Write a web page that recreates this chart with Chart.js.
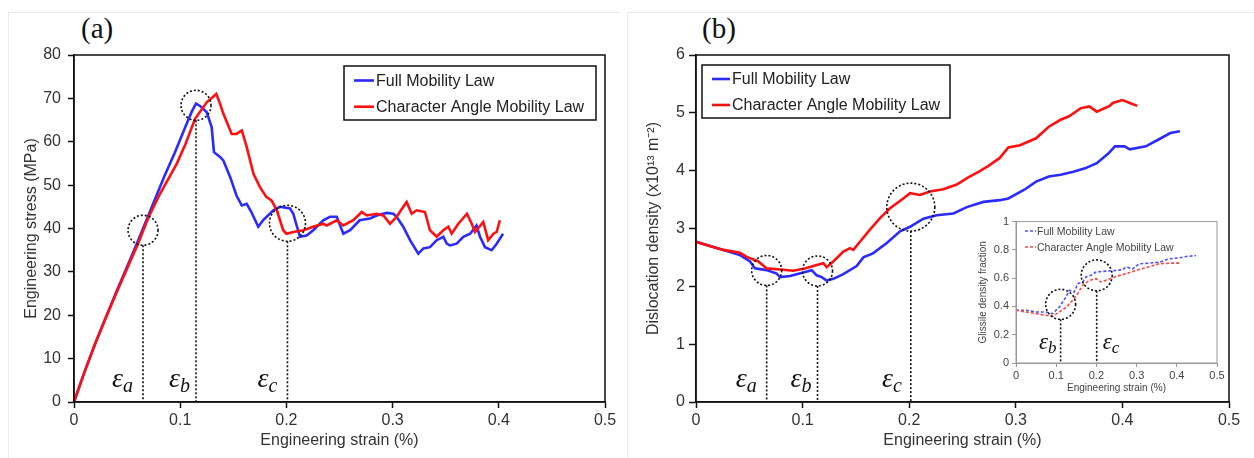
<!DOCTYPE html>
<html>
<head>
<meta charset="utf-8">
<script src="https://cdn.jsdelivr.net/npm/chart.js@4.4.1/dist/chart.umd.min.js"></script>
<style>
  body { margin: 0; background: #fff; width: 1254px; height: 458px; overflow: hidden; position: relative; }
  .frame { position: absolute; border-left: 1px solid #ebebeb; border-top: 1px solid #ebebeb; }
  canvas { position: absolute; }
  .tag { position: absolute; font-family: "Liberation Serif", "Times New Roman", serif; font-size: 29px; color: #111; line-height: 1; }
</style>
</head>
<body>
<div class="frame" style="left:8px;top:12px;width:612px;height:446px"></div>
<div class="frame" style="left:627px;top:12px;width:627px;height:446px"></div>
<div class="tag" style="left:81px;top:14px">(a)</div>
<div class="tag" style="left:702px;top:14px">(b)</div>
<canvas id="grafA" width="620" height="458" style="left:0;top:0"></canvas>
<canvas id="grafB" width="627" height="458" style="left:627px;top:0"></canvas>
<canvas id="grafInset" width="258" height="186" style="left:970px;top:212px"></canvas>
<script>
// ---- dados ----
const series = ['Full Mobility Law', 'Character Angle Mobility Law'];
const xTickValues = [0, 0.1, 0.2, 0.3, 0.4, 0.5];
const xTickLabels = ['0', '0.1', '0.2', '0.3', '0.4', '0.5'];
const stressTickValues = [0, 10, 20, 30, 40, 50, 60, 70, 80];
const stressTickLabels = ['0', '10', '20', '30', '40', '50', '60', '70', '80'];
const densTickValues = [0, 1, 2, 3, 4, 5, 6];
const densTickLabels = ['0', '1', '2', '3', '4', '5', '6'];
const fracTickValues = [0, 0.2, 0.4, 0.6, 0.8, 1];
const fracTickLabels = ['0', '0.2', '0.4', '0.6', '0.8', '1'];

// (a) tensao x deformacao
const strainA_full = [0, 0.01, 0.02, 0.03, 0.04, 0.05, 0.06, 0.065, 0.075, 0.085, 0.095, 0.105, 0.111, 0.1149, 0.119, 0.125, 0.1296, 0.1318, 0.1375, 0.1406, 0.147, 0.153, 0.158, 0.1626, 0.167, 0.1735, 0.178, 0.1877, 0.194, 0.2034, 0.2065, 0.210, 0.2128, 0.219, 0.2253, 0.2347, 0.241, 0.2474, 0.2536, 0.26, 0.269, 0.2787, 0.285, 0.2944, 0.3007, 0.3038, 0.31, 0.3164, 0.3242, 0.329, 0.3352, 0.3415, 0.3478, 0.351, 0.354, 0.3603, 0.3666, 0.373, 0.379, 0.3823, 0.387, 0.3933, 0.398, 0.404];
const stressA_full = [0, 7, 13.5, 19.5, 25.5, 31.2, 37, 40, 46, 52, 57.5, 63.5, 67, 68.8, 68.2, 66.8, 63.4, 57.6, 56.5, 55.7, 51.9, 47.6, 45.3, 45.7, 43.8, 40.4, 41.9, 44.2, 45, 44.6, 43.4, 40.4, 38.1, 38.4, 39.6, 41.9, 42.7, 42.7, 38.8, 39.6, 41.9, 42.3, 43.0, 43.6, 43.4, 42.7, 40.4, 37.3, 34.2, 35.4, 35.7, 37.3, 38.1, 36.5, 36.1, 36.5, 38.1, 38.8, 40.7, 38.1, 35.7, 35.0, 36.5, 38.8];
const strainA_angle = [0, 0.01, 0.02, 0.03, 0.04, 0.05, 0.06, 0.065, 0.07, 0.081, 0.0967, 0.105, 0.114, 0.125, 0.134, 0.1375, 0.1406, 0.1485, 0.153, 0.158, 0.1626, 0.169, 0.175, 0.181, 0.186, 0.191, 0.194, 0.197, 0.2, 0.2065, 0.216, 0.2253, 0.2347, 0.238, 0.2474, 0.2536, 0.263, 0.2709, 0.2756, 0.285, 0.2913, 0.2976, 0.3038, 0.3132, 0.318, 0.3226, 0.3305, 0.3352, 0.3415, 0.3478, 0.3525, 0.3556, 0.3619, 0.37, 0.3745, 0.3776, 0.3854, 0.39, 0.395, 0.398, 0.401];
const stressA_angle = [0, 7, 13.5, 19.5, 25.2, 30.8, 36.3, 39.4, 42.5, 48.0, 54.9, 59.5, 65.3, 69.1, 71.0, 68.8, 66.5, 61.8, 61.8, 62.6, 58.8, 52.6, 49.6, 47.3, 46.5, 44.2, 41.9, 39.6, 38.8, 39.2, 39.6, 40.4, 41.1, 40.7, 41.9, 40.7, 41.9, 43.8, 43.0, 43.4, 43.0, 41.1, 42.7, 46.1, 43.4, 44.2, 43.8, 39.6, 38.1, 39.6, 40.4, 38.8, 41.1, 43.4, 41.1, 39.2, 41.5, 37.3, 38.8, 39.2, 41.9];

// (b) densidade de discordancias
const strainB_full = [0, 0.0256, 0.0413, 0.0507, 0.0553, 0.0663, 0.0757, 0.0788, 0.0882, 0.1007, 0.1085, 0.1132, 0.118, 0.1226, 0.1288, 0.1382, 0.1507, 0.157, 0.166, 0.179, 0.1914, 0.2008, 0.2133, 0.2258, 0.2415, 0.254, 0.2696, 0.285, 0.293, 0.308, 0.319, 0.331, 0.342, 0.354, 0.365, 0.376, 0.387, 0.393, 0.402, 0.407, 0.422, 0.433, 0.445, 0.454];
const densB_full = [2.77, 2.63, 2.54, 2.43, 2.31, 2.28, 2.22, 2.16, 2.18, 2.24, 2.28, 2.19, 2.16, 2.10, 2.13, 2.21, 2.35, 2.50, 2.57, 2.75, 2.95, 3.03, 3.17, 3.23, 3.26, 3.37, 3.46, 3.49, 3.52, 3.67, 3.81, 3.90, 3.93, 3.98, 4.04, 4.13, 4.30, 4.42, 4.42, 4.37, 4.42, 4.53, 4.65, 4.68];
const strainB_angle = [0, 0.0256, 0.035, 0.0413, 0.0476, 0.0585, 0.0663, 0.0788, 0.0913, 0.1022, 0.1132, 0.1195, 0.1226, 0.1288, 0.1382, 0.1445, 0.1476, 0.1538, 0.1632, 0.1726, 0.182, 0.1945, 0.2008, 0.21, 0.2195, 0.232, 0.2446, 0.255, 0.265, 0.274, 0.285, 0.293, 0.304, 0.319, 0.331, 0.342, 0.35, 0.361, 0.369, 0.376, 0.388, 0.391, 0.4, 0.407, 0.414];
const densB_angle = [2.77, 2.63, 2.6, 2.58, 2.51, 2.43, 2.31, 2.29, 2.27, 2.31, 2.37, 2.40, 2.33, 2.43, 2.60, 2.66, 2.63, 2.77, 2.98, 3.18, 3.35, 3.52, 3.61, 3.58, 3.64, 3.68, 3.76, 3.88, 3.98, 4.08, 4.22, 4.40, 4.44, 4.56, 4.76, 4.88, 4.94, 5.08, 5.11, 5.02, 5.12, 5.17, 5.22, 5.17, 5.12];

// inset - fracao glissil
const strainI_full = [0, 0.0249, 0.0498, 0.0746, 0.0912, 0.1078, 0.1244, 0.1327, 0.145, 0.1534, 0.1658, 0.174, 0.1865, 0.199, 0.224, 0.249, 0.2654, 0.2736, 0.29, 0.3068, 0.3317, 0.3566, 0.3815, 0.4063, 0.423, 0.4478];
const fracI_full = [0.373, 0.373, 0.361, 0.361, 0.349, 0.396, 0.467, 0.514, 0.502, 0.561, 0.573, 0.608, 0.62, 0.643, 0.65, 0.655, 0.66, 0.679, 0.666, 0.702, 0.706, 0.713, 0.737, 0.744, 0.753, 0.76];
const strainI_angle = [0, 0.0249, 0.0498, 0.0746, 0.0912, 0.1078, 0.1244, 0.141, 0.1534, 0.1658, 0.1824, 0.199, 0.2114, 0.228, 0.249, 0.2736, 0.2985, 0.3234, 0.3566, 0.3815, 0.4104];
const fracI_angle = [0.373, 0.361, 0.349, 0.338, 0.331, 0.361, 0.392, 0.444, 0.49, 0.549, 0.584, 0.596, 0.573, 0.59, 0.613, 0.631, 0.655, 0.674, 0.702, 0.706, 0.706];

// marcas epsilon (deformacao, centro do circulo)
const marcasA_x = [0.065, 0.1149, 0.201];
const marcasA_y = [39.6, 68.4, 41.2];
const marcasB_x = [0.0663, 0.114, 0.2015];
const marcasB_y = [2.275, 2.266, 3.37];
const marcasI_x = [0.111, 0.2007];
const marcasI_y = [0.415, 0.62];

const FONTE = '"Liberation Sans", Arial, sans-serif';
const AZUL = '#2b2bff';
const VERMELHO = '#ff1010';

function pontos(xs, ys) {
  return xs.map(function (x, i) { return { x: x, y: ys[i] }; });
}

function escala(vals, rots, titulo, c) {
  return {
    type: 'linear',
    min: vals[0],
    max: vals[vals.length - 1],
    afterBuildTicks: function (s) { s.ticks = vals.map(function (v) { return { value: v }; }); },
    ticks: {
      callback: function (v, i) { return rots[i]; },
      color: c.cor, font: { family: FONTE, size: c.tam }, padding: c.pad,
      maxRotation: 0, autoSkip: false
    },
    grid: { drawOnChartArea: false, drawTicks: true, tickLength: c.tick, tickColor: c.borda, tickWidth: c.lw },
    border: { display: true, color: c.borda, width: c.lw },
    title: { display: true, text: titulo, color: c.cor, font: { family: FONTE, size: c.tam2 }, padding: c.tpad },
    afterFit: function (s) { if (s.isHorizontal()) { s.height = c.h; } else { s.width = c.w; } }
  };
}

// caixa em volta da area, marcas epsilon e legenda
const extras = {
  id: 'extras',
  afterDraw: function (chart, args, o) {
    const ctx = chart.ctx, a = chart.chartArea;
    const sx = chart.scales.x, sy = chart.scales.y;
    ctx.save();
    ctx.strokeStyle = o.borda; ctx.lineWidth = o.lw;
    ctx.strokeRect(a.left, a.top, a.right - a.left, a.bottom - a.top);

    // circulos e linhas pontilhadas
    ctx.strokeStyle = '#111';
    o.marcas.x.forEach(function (mx, i) {
      const px = sx.getPixelForValue(mx);
      const py = sy.getPixelForValue(o.marcas.y[i]);
      const r = o.raios[i];
      ctx.lineWidth = o.lwMarca;
      ctx.setLineDash([2, 2]);
      ctx.beginPath(); ctx.arc(px, py, r, 0, Math.PI * 2); ctx.stroke();
      ctx.beginPath(); ctx.moveTo(px, py + r); ctx.lineTo(px, a.bottom); ctx.stroke();
      ctx.setLineDash([]);
      // rotulo
      ctx.fillStyle = '#111';
      ctx.font = 'italic ' + o.epsTam + 'px "Liberation Serif", serif';
      const w1 = ctx.measureText('ε').width;
      ctx.font = 'italic ' + o.subTam + 'px "Liberation Serif", serif';
      const w2 = ctx.measureText(o.marcas.sub[i]).width;
      const g = o.gaps[i];
      const x0 = g < 0 ? px + g - w1 - w2 : px + g;
      const base = a.bottom - o.base;
      ctx.font = 'italic ' + o.epsTam + 'px "Liberation Serif", serif';
      ctx.fillText('ε', x0, base);
      ctx.font = 'italic ' + o.subTam + 'px "Liberation Serif", serif';
      ctx.fillText(o.marcas.sub[i], x0 + w1, base + o.subDy);
    });

    // legenda
    const L = o.legenda;
    if (L.caixa) {
      ctx.strokeStyle = '#111'; ctx.lineWidth = 1.5;
      ctx.strokeRect(L.caixa[0], L.caixa[1], L.caixa[2], L.caixa[3]);
    }
    ctx.font = L.tam + 'px ' + FONTE;
    ctx.textBaseline = 'middle';
    chart.data.datasets.forEach(function (d, i) {
      ctx.strokeStyle = d.borderColor; ctx.lineWidth = L.lw;
      ctx.setLineDash(d.borderDash || []);
      ctx.beginPath(); ctx.moveTo(L.x1, L.linhas[i]); ctx.lineTo(L.x2, L.linhas[i]); ctx.stroke();
      ctx.setLineDash([]);
      ctx.fillStyle = L.cor;
      ctx.fillText(d.label, L.xt, L.linhas[i] + 1);
    });
    ctx.restore();
  }
};

// ordem: a curva vermelha fica por cima, como na figura
function conjunto(label, dados, cor, lw, dash, ordem) {
  return { label: label, data: dados, borderColor: cor, backgroundColor: cor, borderWidth: lw,
           borderDash: dash, pointRadius: 0, tension: 0, fill: false, order: ordem };
}

const principal = { cor: '#333', borda: '#111', lw: 1.5, tam: 16, tam2: 16, tick: 6, pad: 7 };

// (a)
new Chart(document.getElementById('grafA'), {
  type: 'line',
  data: { datasets: [
    conjunto(series[0], pontos(strainA_full, stressA_full), AZUL, 2.6, [], 2),
    conjunto(series[1], pontos(strainA_angle, stressA_angle), VERMELHO, 2.6, [], 1)
  ] },
  options: {
    responsive: false, animation: false, devicePixelRatio: 1,
    layout: { padding: { left: 0, right: 15, top: 55, bottom: 0 } },
    scales: {
      x: escala(xTickValues, xTickLabels, 'Engineering strain (%)', Object.assign({}, principal, { pad: 3, h: 56, tpad: { top: 0, bottom: 7.4 } })),
      y: escala(stressTickValues, stressTickLabels, 'Engineering stress (MPa)', Object.assign({}, principal, { w: 74, tpad: { top: 22.4, bottom: 0 } }))
    },
    plugins: {
      legend: { display: false }, tooltip: { enabled: false },
      extras: {
        borda: '#111', lw: 1.5, lwMarca: 1.6,
        marcas: { x: marcasA_x, y: marcasA_y, sub: ['a', 'b', 'c'] },
        raios: [15, 15, 18], gaps: [-10, -6, -10],
        epsTam: 28, subTam: 20, base: 15, subDy: 5,
        legenda: { caixa: [344, 66, 252, 54], x1: 354, x2: 374, xt: 376, linhas: [80.5, 106.7], tam: 16, lw: 2.6, cor: '#222' }
      }
    }
  },
  plugins: [extras]
});

// (b)
new Chart(document.getElementById('grafB'), {
  type: 'line',
  data: { datasets: [
    conjunto(series[0], pontos(strainB_full, densB_full), AZUL, 2.6, [], 2),
    conjunto(series[1], pontos(strainB_angle, densB_angle), VERMELHO, 2.6, [], 1)
  ] },
  options: {
    responsive: false, animation: false, devicePixelRatio: 1,
    layout: { padding: { left: 0, right: 25, top: 55, bottom: 0 } },
    scales: {
      x: escala(xTickValues, xTickLabels, 'Engineering strain (%)', Object.assign({}, principal, { pad: 3, h: 56, tpad: { top: 0, bottom: 7.4 } })),
      y: escala(densTickValues, densTickLabels, 'Dislocation density (x10¹³ m⁻²)', Object.assign({}, principal, { tick: 7, pad: 4, w: 69, tpad: { top: 17.4, bottom: 0 } }))
    },
    plugins: {
      legend: { display: false }, tooltip: { enabled: false },
      extras: {
        borda: '#111', lw: 1.5, lwMarca: 1.6,
        marcas: { x: marcasB_x, y: marcasB_y, sub: ['a', 'b', 'c'] },
        raios: [15, 15, 24], gaps: [-10, -6, -9],
        epsTam: 28, subTam: 20, base: 15, subDy: 5,
        legenda: { caixa: [75, 65, 248, 53], x1: 85, x2: 103, xt: 105, linhas: [79, 105], tam: 16, lw: 2.6, cor: '#222' }
      }
    }
  },
  plugins: [extras]
});

// inset
const pequeno = { cor: '#444', borda: '#999', lw: 1, tam: 11, tam2: 10, tick: 4, pad: 3 };
new Chart(document.getElementById('grafInset'), {
  type: 'line',
  data: { datasets: [
    conjunto(series[0], pontos(strainI_full, fracI_full), '#5050ff', 1.6, [3, 2], 2),
    conjunto(series[1], pontos(strainI_angle, fracI_angle), '#ff4646', 1.6, [3, 2], 1)
  ] },
  options: {
    responsive: false, animation: false, devicePixelRatio: 1,
    layout: { padding: { left: 0, right: 11, top: 9, bottom: 0 } },
    scales: {
      x: escala(xTickValues, xTickLabels, 'Engineering strain (%)', Object.assign({}, pequeno, { pad: 2, h: 35, tpad: { top: 0, bottom: 4 } })),
      y: escala(fracTickValues, fracTickLabels, 'Glissile density fraction', Object.assign({}, pequeno, { w: 46, tpad: { top: 7, bottom: 0 } }))
    },
    plugins: {
      legend: { display: false }, tooltip: { enabled: false },
      extras: {
        borda: '#999', lw: 1, lwMarca: 1.6,
        marcas: { x: marcasI_x, y: marcasI_y, sub: ['b', 'c'] },
        raios: [15, 15.5], gaps: [-4, 6],
        epsTam: 23, subTam: 17, base: 14, subDy: 4,
        legenda: { caixa: null, x1: 55, x2: 66, xt: 67, linhas: [19, 35], tam: 10.5, lw: 1.5, cor: '#444' }
      }
    }
  },
  plugins: [extras]
});
</script>
</body>
</html>
